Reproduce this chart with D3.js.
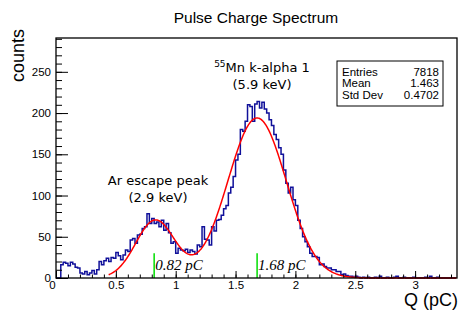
<!DOCTYPE html>
<html>
<head>
<meta charset="utf-8">
<script src="https://cdn.jsdelivr.net/npm/d3@7"></script>
<style>
  body { margin: 0; background: #fff; }
  svg { display: block; font-family: "Liberation Sans", Arial, sans-serif; }
</style>
</head>
<body>
<div id="chart"></div>
<script>
// histogram: bins of 0.02 pC starting at 0
const binStart = 0;
const binWidth = 0.02;
const counts = [
  0, 0, 16, 19, 18, 15, 19, 17, 13, 12, 6, 5, 8, 4, 6, 9, 5, 10,
  20, 16, 21, 24, 20, 25, 24, 31, 27, 22, 28, 34, 32, 46, 48, 42, 52, 53, 60, 62,
  78, 66, 72, 66, 68, 62, 70, 58, 66, 55, 42, 44,
  30, 36, 34, 33, 35, 31, 34, 32, 29, 40, 38,
  62, 47, 46, 40, 62, 57, 70, 71, 76, 84, 88, 103, 110, 123, 143, 150,
  180, 178, 190, 210, 208, 190, 211, 214, 206, 213, 205, 200, 192, 185, 174, 168, 158, 150,
  131, 115, 103, 110, 95, 88, 70, 60, 50, 44, 38, 30,
  26, 26, 25, 16, 17, 14, 12, 12, 10, 10, 8, 8, 4, 5, 3, 2, 2, 1, 2, 1,
  0, 1, 0, 1, 0, 0, 1, 0, 2, 0, 0, 1, 0, 0, 1, 2, 0, 0, 1, 0, 0, 0, 1,
  0, 0, 0, 0, 1, 0, 2, 0, 0, 1, 0, 0, 0, 0, 0, 0, 0
];

// fit: two gaussians (Ar escape, Mn k-alpha)
const fitAmp = [70, 194];
const fitMean = [0.83, 1.68];
const fitSigma = [0.163, 0.244];
const fitRange = [0.44, 3.35];

const markers = [0.82, 1.68];
const markerLabels = ["0.82 pC", "1.68 pC"];
const markerHeight = 30;

const xTicks = [0, 0.5, 1, 1.5, 2, 2.5, 3];
const yTicks = [0, 50, 100, 150, 200, 250];
const xDomain = [0, 3.35];
const yDomain = [0, 291];

const statNames = ["Entries", "Mean", "Std Dev"];
const statValues = ["7818", "1.463", "0.4702"];

const width = 460, height = 311;
const frame = { left: 56, right: 457, top: 38, bottom: 278 };

const svg = d3.select("#chart").append("svg")
  .attr("width", width).attr("height", height);

const x = d3.scaleLinear().domain(xDomain).range([frame.left, frame.right]);
const y = d3.scaleLinear().domain(yDomain).range([frame.bottom, frame.top]);

// title
svg.append("text")
  .attr("x", 256).attr("y", 23)
  .attr("text-anchor", "middle")
  .style("font-size", "15.5px")
  .text("Pulse Charge Spectrum");

// histogram outline
const pts = counts.map((c, i) => [binStart + i * binWidth, c]);
pts.push([binStart + counts.length * binWidth, counts[counts.length - 1]]);
const step = d3.line()
  .x(d => x(Math.min(d[0], xDomain[1])))
  .y(d => y(d[1]))
  .curve(d3.curveStepAfter);
svg.append("path")
  .attr("d", step(pts))
  .attr("fill", "none")
  .attr("stroke", "#10109a")
  .attr("stroke-width", 1.5);

// fit curve
function fitFn(q) {
  let s = 0;
  for (let k = 0; k < fitAmp.length; k++) {
    s += fitAmp[k] * Math.exp(-((q - fitMean[k]) ** 2) / (2 * fitSigma[k] ** 2));
  }
  return s;
}
const qs = d3.range(fitRange[0], fitRange[1], 0.005);
svg.append("path")
  .attr("d", d3.line().x(q => x(q)).y(q => y(fitFn(q)))(qs))
  .attr("fill", "none")
  .attr("stroke", "#ff0000")
  .attr("stroke-width", 1.5);

// green markers
markers.forEach((m, i) => {
  svg.append("line")
    .attr("x1", x(m)).attr("x2", x(m))
    .attr("y1", y(0)).attr("y2", y(markerHeight))
    .attr("stroke", "#00dd00").attr("stroke-width", 1.5);
  svg.append("text")
    .attr("x", x(m) + 1).attr("y", 270)
    .style("font-family", "'Liberation Serif', 'Times New Roman', serif")
    .style("font-style", "italic")
    .style("font-size", "15px")
    .text(markerLabels[i]);
});

// axes
const yAxis = svg.append("g").attr("transform", `translate(${frame.left},0)`)
  .call(d3.axisLeft(y).tickValues(yTicks).tickSize(-12).tickPadding(5));
const yMinor = svg.append("g").attr("transform", `translate(${frame.left},0)`)
  .call(d3.axisLeft(y).tickValues(d3.range(0, 291, 10)).tickSize(-6).tickFormat(""));
const xAxis = svg.append("g").attr("transform", `translate(0,${frame.bottom})`)
  .call(d3.axisBottom(x).tickValues(xTicks).tickSize(-7).tickPadding(3)
    .tickFormat(d => String(d)));
const xMinor = svg.append("g").attr("transform", `translate(0,${frame.bottom})`)
  .call(d3.axisBottom(x).tickValues(d3.range(0, 3.35, 0.1)).tickSize(-3.5).tickFormat(""));

[yAxis, yMinor, xAxis, xMinor].forEach(g => {
  g.select(".domain").remove();
  g.selectAll("line").attr("stroke", "#000").attr("stroke-width", 1);
  g.selectAll("text").style("font-family", "'Liberation Sans', Arial, sans-serif")
    .style("font-size", "11.5px").attr("fill", "#000");
});
// ROOT nudges the x "0" to the left
xAxis.selectAll(".tick text").filter(d => d === 0).attr("dx", -4);

// frame
svg.append("rect")
  .attr("x", frame.left).attr("y", frame.top)
  .attr("width", frame.right - frame.left).attr("height", frame.bottom - frame.top)
  .attr("fill", "none").attr("stroke", "#000").attr("stroke-width", 1.3);

// axis titles
svg.append("text")
  .attr("transform", "translate(24,29) rotate(-90)")
  .attr("text-anchor", "end")
  .style("font-size", "18px")
  .text("counts");
svg.append("text")
  .attr("x", 458).attr("y", 306)
  .attr("text-anchor", "end")
  .style("font-size", "18px")
  .text("Q (pC)");

// peak annotations
const ann = svg.append("g")
  .style("font-family", "'DejaVu Sans', sans-serif")
  .style("font-size", "13px")
  .attr("text-anchor", "middle");
const mn = ann.append("text").attr("x", 262).attr("y", 72);
mn.append("tspan").attr("baseline-shift", "super").style("font-size", "9px").text("55");
mn.append("tspan").text("Mn k-alpha 1");
ann.append("text").attr("x", 262).attr("y", 89).text("(5.9 keV)");
ann.append("text").attr("x", 158).attr("y", 185).text("Ar escape peak");
ann.append("text").attr("x", 158).attr("y", 202).text("(2.9 keV)");

// stats box
const box = svg.append("g");
box.append("rect")
  .attr("x", 337).attr("y", 61).attr("width", 106).attr("height", 45)
  .attr("fill", "#fff").attr("stroke", "#000").attr("stroke-width", 1);
statNames.forEach((n, i) => {
  box.append("text").attr("x", 342).attr("y", 75.5 + i * 11.5)
    .style("font-size", "11.5px").text(n);
  box.append("text").attr("x", 439).attr("y", 75.5 + i * 11.5)
    .attr("text-anchor", "end").style("font-size", "11.5px").text(statValues[i]);
});
</script>
</body>
</html>
